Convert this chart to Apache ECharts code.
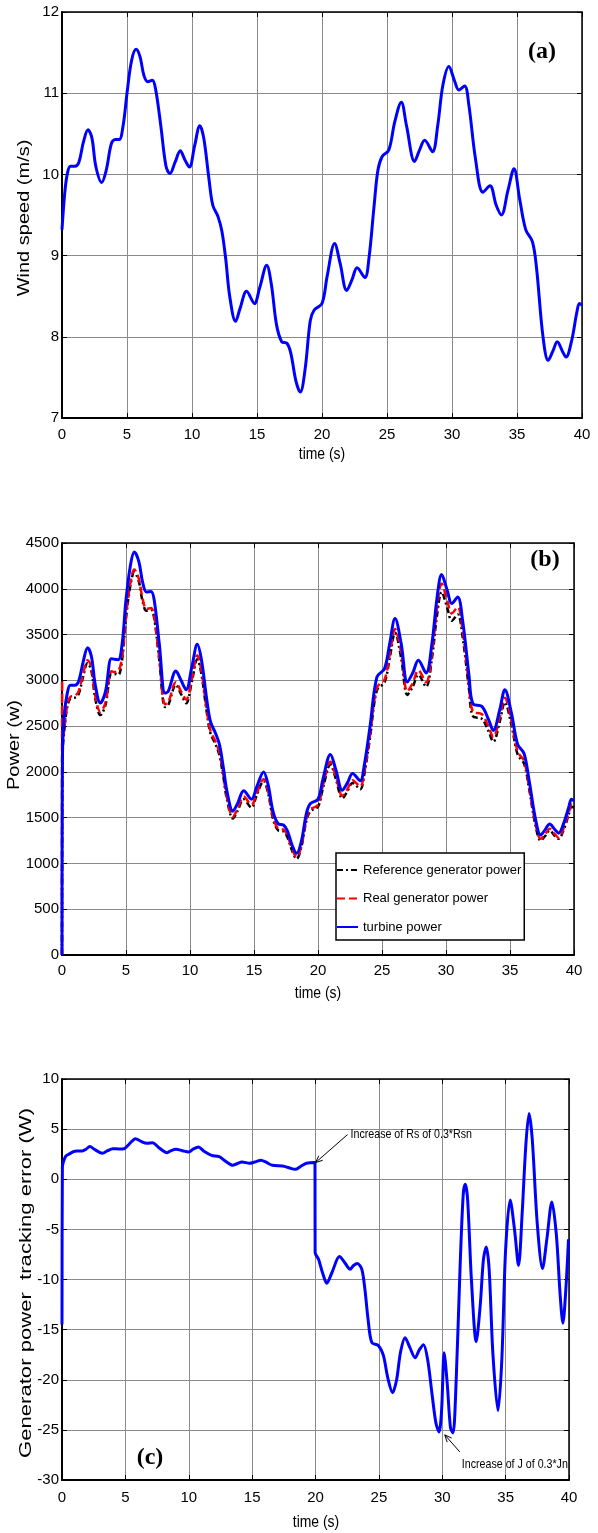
<!DOCTYPE html>
<html>
<head>
<meta charset="utf-8">
<script src="https://cdn.jsdelivr.net/npm/echarts@6/dist/echarts.min.js"></script>
<style>
  html, body { margin: 0; padding: 0; background: #fff; }
  #chart { width: 598px; height: 1533px; }
</style>
</head>
<body>
<div id="chart"></div>
<script>
// ---- (a) wind speed profile ----
const windTime = [0, 0.2, 0.4, 0.65, 1.0, 1.3, 1.65, 2.0, 2.3, 2.6, 3.05, 3.4, 3.8, 4.1, 4.4, 4.7, 5.0, 5.35, 5.7, 6.0,
  6.3, 6.6, 6.95, 7.2, 7.6, 8.0, 8.3, 8.7, 9.1, 9.45, 9.8, 10.2, 10.6, 10.9, 11.3, 11.6, 12.0, 12.3, 12.6, 12.9,
  13.35, 13.7, 14.2, 14.8, 15.2, 15.75, 16.1, 16.5, 16.9, 17.3, 17.6, 18.0, 18.33, 18.7, 19.1, 19.4, 20.0, 20.4, 20.97, 21.4,
  21.9, 22.3, 22.7, 23.3, 23.6, 24.0, 24.3, 24.63, 25.14, 25.6, 26.1, 26.5, 27.12, 27.5, 27.9, 28.5, 28.9, 29.3, 29.76, 30.2,
  30.53, 30.97, 31.3, 31.8, 32.38, 32.92, 33.4, 33.8, 34.3, 34.77, 35.2, 35.67, 36.19, 36.5, 37.0, 37.4, 37.75, 38.1, 38.5, 38.77,
  39.2, 39.6, 39.8, 40.0];
const windSpeed = [9.32, 9.75, 10.0, 10.1, 10.1, 10.15, 10.4, 10.55, 10.45, 10.1, 9.9, 10.05, 10.38, 10.43, 10.43, 10.6, 11.0, 11.4, 11.54, 11.45,
  11.22, 11.14, 11.16, 11.05, 10.6, 10.1, 10.01, 10.15, 10.29, 10.18, 10.09, 10.35, 10.6, 10.45, 9.95, 9.62, 9.48, 9.3, 8.95, 8.5,
  8.19, 8.35, 8.56, 8.41, 8.6, 8.88, 8.65, 8.15, 7.94, 7.92, 7.8, 7.45, 7.32, 7.6, 8.2, 8.33, 8.41, 8.75, 9.15, 8.9,
  8.57, 8.7, 8.85, 8.73, 8.95, 9.6, 10.05, 10.22, 10.3, 10.65, 10.89, 10.6, 10.16, 10.3, 10.42, 10.28, 10.6, 11.1, 11.33, 11.15,
  11.04, 11.09, 10.85, 10.2, 9.78, 9.86, 9.62, 9.5, 9.8, 10.07, 9.7, 9.32, 9.17, 8.85, 8.0, 7.71, 7.82, 7.94, 7.82, 7.75,
  7.95, 8.3, 8.41, 8.39];

// ---- (b) powers ----
const powerTime = [0, 0.01, 0.05, 0.2, 0.4, 0.65, 1.0, 1.3, 1.65, 2.0, 2.3, 2.6, 3.0, 3.4, 3.85, 4.1, 4.4, 4.7, 5.0, 5.35,
  5.65, 6.0, 6.3, 6.6, 6.95, 7.2, 7.6, 8.05, 8.3, 8.9, 9.3, 9.7, 10.15, 10.57, 10.9, 11.3, 11.6, 12.0, 12.3, 12.6,
  12.9, 13.35, 13.7, 14.2, 14.8, 15.2, 15.75, 16.1, 16.5, 16.9, 17.3, 17.6, 18.0, 18.33, 18.7, 19.1, 19.4, 20.0, 20.4, 20.97,
  21.4, 21.9, 22.3, 22.7, 23.3, 23.6, 24.06, 24.6, 25.2, 25.6, 26.02, 26.5, 26.98, 27.4, 27.84, 28.44, 28.9, 29.3, 29.66, 30.1,
  30.45, 30.91, 31.3, 31.8, 32.1, 32.8, 33.3, 33.7, 34.2, 34.6, 35.1, 35.6, 36.1, 36.5, 37.0, 37.4, 37.75, 38.1, 38.5, 38.8,
  39.2, 39.6, 39.8, 40];
const turbinePower = [0, 1200, 2300, 2650, 2850, 2945, 2945, 2990, 3200, 3357, 3260, 2950, 2752, 2880, 3237, 3230, 3225, 3400, 3880, 4260,
  4402, 4300, 4070, 3965, 3970, 3880, 3400, 2861, 2880, 3102, 3000, 2898, 3150, 3393, 3220, 2800, 2550, 2420, 2300, 2050,
  1780, 1571, 1650, 1794, 1701, 1830, 2000, 1860, 1560, 1432, 1420, 1360, 1190, 1110, 1240, 1550, 1653, 1701, 1930, 2191,
  2020, 1800, 1880, 1982, 1903, 2060, 2490, 3036, 3128, 3400, 3674, 3400, 2981, 3080, 3219, 3080, 3400, 3900, 4155, 3980,
  3838, 3910, 3650, 3050, 2745, 2716, 2580, 2453, 2680, 2898, 2650, 2300, 2200, 1900, 1480, 1311, 1370, 1432, 1370, 1331,
  1440, 1620, 1701, 1683];
const realGenPower = [0, 3000, 2350, 2500, 2720, 2820, 2830, 2880, 3070, 3220, 3140, 2830, 2654, 2760, 3100, 3090, 3100, 3260, 3700, 4070,
  4210, 4110, 3890, 3780, 3790, 3700, 3250, 2740, 2760, 2980, 2880, 2790, 3020, 3273, 3100, 2690, 2450, 2330, 2210, 1970,
  1710, 1510, 1590, 1730, 1640, 1760, 1920, 1790, 1500, 1380, 1370, 1310, 1150, 1070, 1190, 1490, 1590, 1640, 1860, 2110,
  1950, 1740, 1810, 1910, 1840, 1980, 2400, 2920, 3010, 3280, 3560, 3300, 2880, 2970, 3110, 2980, 3290, 3790, 4057, 3870,
  3730, 3800, 3540, 2950, 2660, 2630, 2500, 2380, 2600, 2810, 2570, 2220, 2120, 1830, 1430, 1270, 1320, 1380, 1320, 1280,
  1390, 1560, 1640, 1630];
const refGenPower = [0, 1100, 2200, 2480, 2700, 2800, 2810, 2850, 3040, 3190, 3100, 2800, 2620, 2730, 3070, 3070, 3060, 3230, 3680, 4040,
  4180, 4080, 3860, 3760, 3770, 3680, 3220, 2710, 2730, 2950, 2850, 2750, 2990, 3230, 3060, 2660, 2420, 2300, 2180, 1950,
  1690, 1490, 1570, 1700, 1610, 1740, 1900, 1770, 1480, 1360, 1350, 1290, 1130, 1050, 1180, 1470, 1570, 1620, 1830, 2080,
  1920, 1710, 1790, 1880, 1810, 1960, 2370, 2890, 2980, 3240, 3520, 3240, 2840, 2930, 3060, 2930, 3240, 3710, 3965, 3790,
  3650, 3720, 3470, 2900, 2610, 2580, 2450, 2330, 2550, 2760, 2520, 2190, 2090, 1810, 1410, 1250, 1300, 1360, 1300, 1270,
  1370, 1540, 1620, 1610];

// ---- (c) generator power tracking error ----
const errTime = [0, 0.03, 0.1, 0.3, 0.55, 0.9, 1.14, 1.6, 1.9, 2.19, 2.6, 3.19, 3.6, 4.0, 4.5, 4.9, 5.3, 5.8, 6.2, 6.7,
  7.15, 7.6, 8.3, 8.6, 9.0, 9.5, 10.0, 10.35, 10.76, 11.2, 11.8, 12.4, 12.9, 13.46, 13.8, 14.2, 14.8, 15.2, 15.7, 16.1,
  16.6, 17.4, 17.9, 18.4, 18.85, 19.3, 19.9, 19.96, 19.97, 20.24, 20.55, 20.89, 21.3, 21.89, 22.3, 22.73, 23.0, 23.3, 23.65, 23.9,
  24.15, 24.44, 24.97, 25.36, 25.7, 26.08, 26.4, 26.7, 27.07, 27.45, 27.86, 28.2, 28.52, 28.85, 29.2, 29.5, 29.75, 29.95, 30.15, 30.4,
  30.65, 30.85, 31.1, 31.4, 31.65, 31.81, 32.0, 32.3, 32.68, 33.0, 33.25, 33.47, 33.7, 34.0, 34.4, 34.7, 35.0, 35.36, 35.7, 36.02,
  36.3, 36.6, 36.85, 37.1, 37.5, 37.91, 38.25, 38.65, 39.0, 39.3, 39.52, 39.75, 39.96];
const errValue = [-14.5, 1.2, 1.7, 2.3, 2.5, 2.75, 2.83, 2.83, 3.0, 3.26, 2.95, 2.59, 2.85, 3.05, 3.02, 3.05, 3.5, 4.05, 3.8, 3.58,
  3.65, 3.2, 2.65, 2.85, 2.99, 2.85, 2.72, 3.0, 3.22, 2.8, 2.39, 2.26, 1.8, 1.39, 1.55, 1.72, 1.59, 1.72, 1.89, 1.7,
  1.39, 1.32, 1.15, 0.99, 1.3, 1.59, 1.66, 1.66, -7.3, -7.98, -9.3, -10.37, -9.3, -7.71, -8.3, -8.97, -8.6, -8.41, -8.97, -11.0,
  -14.0, -16.28, -16.6, -17.6, -19.8, -21.3, -20.0, -17.3, -15.8, -16.8, -17.8, -17.0, -16.5, -18.0, -21.5, -24.3, -25.2, -23.0, -17.3, -20.5,
  -24.8, -25.3, -20.0, -9.0, -1.6, -0.5, -2.0, -10.0, -16.2, -12.5, -8.0, -6.75, -9.0, -17.5, -23.1, -18.0, -7.0, -2.06, -5.0, -8.6,
  -3.5, 3.5, 6.55, 4.0, -4.5, -8.9, -6.0, -2.26, -5.5, -11.5, -14.36, -11.0, -5.98];

// axis ranges and ticks
const timeTicks = { min: 0, max: 40, interval: 5 };
const windTicks = { min: 7, max: 12, interval: 1 };
const powerTicks = { min: 0, max: 4500, interval: 500 };
const errTicks = { min: -30, max: 10, interval: 5 };

const legendNames = ['Reference generator power', 'Real generator power', 'turbine power'];

const pairs = (xs, ys) => xs.map((x, i) => [x, ys[i]]);

const SANS = "'Liberation Sans', Arial, sans-serif";
const GRID_COLOR = '#8a8a8a';

const grids = [
  { left: 62, top: 12, width: 520, height: 406 },
  { left: 62, top: 543, width: 512, height: 412 },
  { left: 62, top: 1079, width: 507, height: 401 }
];
const labelMargins = [9, 8, 10];

const plainNumber = v => String(v);

function bottomAxis(g) {
  return Object.assign({
    type: 'value', gridIndex: g, position: 'bottom',
    axisLine: { show: true, onZero: false, lineStyle: { color: '#000', width: 2 } },
    axisTick: { show: true, inside: true, length: 5, lineStyle: { color: '#000', width: 1 } },
    axisLabel: { color: '#000', fontFamily: SANS, fontSize: 15, margin: labelMargins[g], formatter: plainNumber },
    splitLine: { show: true, lineStyle: { color: GRID_COLOR, width: 1 } }
  }, timeTicks);
}
function topAxis(g) {
  return Object.assign({
    type: 'value', gridIndex: g, position: 'top',
    axisLine: { show: true, onZero: false, lineStyle: { color: '#000', width: 1.5 } },
    axisTick: { show: true, inside: true, length: 5, lineStyle: { color: '#000', width: 1 } },
    axisLabel: { show: false },
    splitLine: { show: false }
  }, timeTicks);
}
function leftAxis(g, ticks) {
  return Object.assign({
    type: 'value', gridIndex: g, position: 'left',
    axisLine: { show: true, onZero: false, lineStyle: { color: '#000', width: 2 } },
    axisTick: { show: true, inside: true, length: 5, lineStyle: { color: '#000', width: 1 } },
    axisLabel: { color: '#000', fontFamily: SANS, fontSize: 15, margin: 3, formatter: plainNumber },
    splitLine: { show: true, lineStyle: { color: GRID_COLOR, width: 1 } }
  }, ticks);
}
function rightAxis(g, ticks) {
  return Object.assign({
    type: 'value', gridIndex: g, position: 'right',
    axisLine: { show: true, onZero: false, lineStyle: { color: '#000', width: 1.5 } },
    axisTick: { show: true, inside: true, length: 5, lineStyle: { color: '#000', width: 1 } },
    axisLabel: { show: false },
    splitLine: { show: false }
  }, ticks);
}

const yTicks = [windTicks, powerTicks, errTicks];

const option = {
  animation: false,
  backgroundColor: '#fff',
  grid: grids,
  xAxis: [0, 1, 2].map(bottomAxis).concat([0, 1, 2].map(topAxis)),
  yAxis: [0, 1, 2].map(g => leftAxis(g, yTicks[g])).concat([0, 1, 2].map(g => rightAxis(g, yTicks[g]))),
  legend: {
    data: legendNames,
    orient: 'vertical',
    left: 336, top: 853,
    padding: [10, 3, 6, 0],
    itemWidth: 21, itemHeight: 14, itemGap: 14.5,
    backgroundColor: '#fff',
    borderColor: '#000', borderWidth: 1.5, borderRadius: 0,
    itemStyle: { color: 'rgba(0,0,0,0)', borderWidth: 0, opacity: 0 },
    textStyle: { color: '#000', fontFamily: SANS, fontSize: 13, lineHeight: 14 },
    selectedMode: false
  },
  series: [
    {
      name: 'wind', type: 'line', xAxisIndex: 0, yAxisIndex: 0,
      data: pairs(windTime, windSpeed), symbol: 'none',
      smooth: 0.35, lineStyle: { color: '#0000ff', width: 3 }, z: 3
    },
    {
      name: 'Reference generator power', type: 'line', xAxisIndex: 1, yAxisIndex: 1,
      data: pairs(powerTime, refGenPower), symbol: 'none', smooth: 0.35,
      itemStyle: { color: '#000' },
      lineStyle: { color: '#000', width: 2.5, type: [6, 3, 2, 3] }, z: 3
    },
    {
      name: 'Real generator power', type: 'line', xAxisIndex: 1, yAxisIndex: 1,
      data: pairs(powerTime, realGenPower), symbol: 'none', smooth: 0.35,
      itemStyle: { color: '#ff0000' },
      lineStyle: { color: '#ff0000', width: 2.5, type: [8, 4] }, z: 4
    },
    {
      name: 'turbine power', type: 'line', xAxisIndex: 1, yAxisIndex: 1,
      data: pairs(powerTime, turbinePower), symbol: 'none', smooth: 0.35,
      itemStyle: { color: '#0000ff' },
      lineStyle: { color: '#0000ff', width: 3 }, z: 5
    },
    {
      name: 'error', type: 'line', xAxisIndex: 2, yAxisIndex: 2,
      data: pairs(errTime, errValue), symbol: 'none', smooth: 0.3,
      lineStyle: { color: '#0000ff', width: 3 }, z: 3
    }
  ]
};

const chart = echarts.init(document.getElementById('chart'), null, { renderer: 'canvas' });
chart.setOption(option);

// ---- titles, panel tags and annotations ----
function text(x, y, str, font, opts) {
  return Object.assign({
    type: 'text', x: x, y: y, z: 50,
    style: { text: str, fill: '#000', font: font, align: 'center', verticalAlign: 'middle' }
  }, opts || {});
}
// rotated axis title, stretched along its length
function vtext(x, y, str, size, stretch) {
  return { type: 'text', x: x, y: y, rotation: Math.PI / 2, scaleX: stretch, scaleY: 1, z: 50,
    style: { text: str, fill: '#000', font: size + 'px ' + SANS, align: 'center', verticalAlign: 'middle' } };
}
function arrow(tip, tail) {
  const dx = tip[0] - tail[0], dy = tip[1] - tail[1];
  const len = Math.sqrt(dx * dx + dy * dy);
  const ux = dx / len, uy = dy / len;
  const hl = 7, hw = 3;
  const b1 = [tip[0] - ux * hl - uy * hw, tip[1] - uy * hl + ux * hw];
  const b2 = [tip[0] - ux * hl + uy * hw, tip[1] - uy * hl - ux * hw];
  return [
    { type: 'line', z: 50, shape: { x1: tail[0], y1: tail[1], x2: tip[0], y2: tip[1] }, style: { stroke: '#000', lineWidth: 1 } },
    { type: 'polyline', z: 50, shape: { points: [b1, tip, b2] }, style: { stroke: '#000', lineWidth: 1, fill: null } }
  ];
}

const tip1 = chart.convertToPixel({ xAxisIndex: 2, yAxisIndex: 2 }, [20, 1.66]);
const tail1 = [tip1[0] + 32, tip1[1] - 28];
const tip2 = chart.convertToPixel({ xAxisIndex: 2, yAxisIndex: 2 }, [30.2, -25.5]);
const tail2 = [tip2[0] + 15, tip2[1] + 17];

const tagFont = "bold 24px 'Liberation Serif', 'Times New Roman', serif";
const timeFont = '17px ' + SANS;
const noteFont = '13px ' + SANS;
const narrow = { scaleX: 0.82, scaleY: 1 };

const elements = [
  vtext(25, 218, 'Wind speed (m/s)', 16, 1.25),
  vtext(15, 745, 'Power (w)', 16, 1.25),
  vtext(26, 1283, 'Generator power  tracking error (W)', 17, 1.3),
  text(322, 454, 'time (s)', timeFont, narrow),
  text(318, 993, 'time (s)', timeFont, narrow),
  text(316, 1522, 'time (s)', timeFont, narrow),
  text(542, 52, '(a)', tagFont),
  text(545, 560, '(b)', tagFont),
  text(150, 1458, '(c)', tagFont),
  text(tail1[0] + 3, tail1[1], 'Increase of Rs of 0.3*Rsn', noteFont,
    { scaleX: 0.82, scaleY: 1, style: { text: 'Increase of Rs of 0.3*Rsn', fill: '#000', font: noteFont, align: 'left', verticalAlign: 'middle' } }),
  text(tail2[0] + 2, tail2[1] + 13, 'Increase of J of 0.3*Jn', noteFont,
    { scaleX: 0.82, scaleY: 1, style: { text: 'Increase of J of 0.3*Jn', fill: '#000', font: noteFont, align: 'left', verticalAlign: 'middle' } })
].concat(arrow(tip1, tail1), arrow(tip2, tail2));

chart.setOption({ graphic: { elements: elements } });
</script>
</body>
</html>
